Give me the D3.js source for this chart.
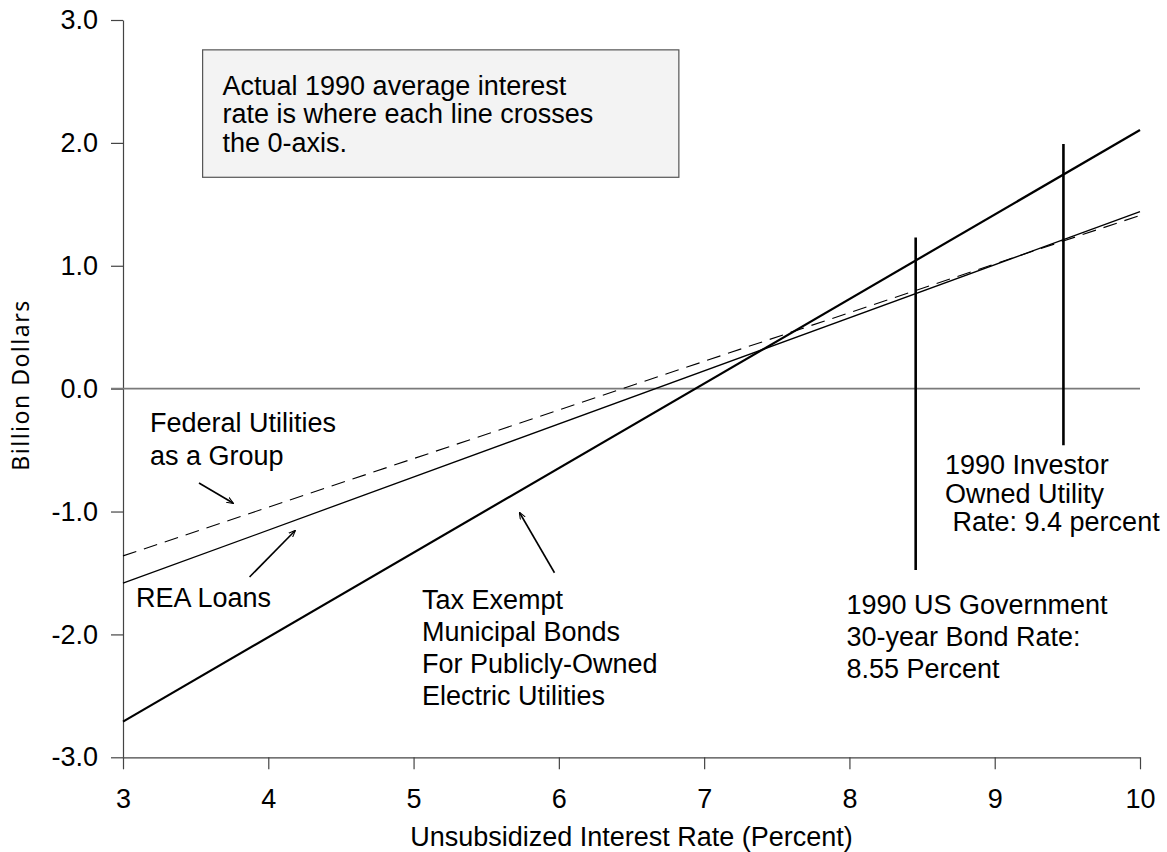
<!DOCTYPE html>
<html><head><meta charset="utf-8">
<script src="https://cdn.jsdelivr.net/npm/d3@7"></script>
<style>
body{margin:0;background:#fff}
svg{display:block}
text{font-family:"Liberation Sans",Arial,Helvetica,sans-serif;fill:#000}
</style>
</head><body>
<svg id="c" width="1167" height="852"></svg>
<script>
// ---- data ----
const xDomain = [3, 10];
const yDomain = [-3, 3];
const xTicks = [3, 4, 5, 6, 7, 8, 9, 10];
const yTicks = [-3, -2, -1, 0, 1, 2, 3];
const rateX = [3, 10];                 // unsubsidized interest rate (percent)
const taxExempt = [-2.71, 2.105];      // Tax Exempt Municipal Bonds (billion $)
const reaLoans = [-1.583, 1.44];       // REA Loans
const federalGroup = [-1.361, 1.41];   // Federal Utilities as a Group
const refRates = [8.456, 9.473];       // reference rate markers
const refTop = [1.23, 1.99];
const refBottom = [-1.475, -0.46];
const boxText = ["Actual 1990 average interest", "rate is where each line crosses", "the 0-axis."];
const xTitle = "Unsubsidized Interest Rate (Percent)";
const yTitle = "Billion Dollars";

// annotation anchors in data units
const labels = [
  {x: 3.186, y: -0.353, lh: 32.5, lines: ["Federal Utilities", "as a Group"]},
  {x: 3.089, y: -1.775, lh: 32, lines: ["REA Loans"]},
  {x: 5.058, y: -1.793, lh: 32, lines: ["Tax Exempt", "Municipal Bonds", "For Publicly-Owned", "Electric Utilities"]},
  {x: 8.658, y: -0.695, lh: 28.5, lines: ["1990 Investor", "Owned Utility", "\u00a0Rate: 9.4 percent"]},
  {x: 7.979, y: -1.83, lh: 32, lines: ["1990 US Government", "30-year Bond Rate:", "8.55 Percent"]}
];
const arrows = [
  {x1: 3.523, y1: -0.768, x2: 3.757, y2: -0.931},
  {x1: 3.871, y1: -1.533, x2: 4.184, y2: -1.156},
  {x1: 5.970, y1: -1.498, x2: 5.730, y2: -1.010}
];
const noteBox = {x0: 3.548, x1: 6.826, y0: 2.757, y1: 1.72, tx: 3.685, ty: 2.393, lh: 28.5};

// ---- drawing ----
const svg = d3.select("#c");
const x = d3.scaleLinear().domain(xDomain).range([123, 1140]);
const y = d3.scaleLinear().domain(yDomain).range([757.3, 20]);
const FS = 27;

svg.append("defs").append("marker")
  .attr("id", "ah").attr("viewBox", "0 0 10 10").attr("refX", 9).attr("refY", 5)
  .attr("markerWidth", 7).attr("markerHeight", 7).attr("markerUnits", "userSpaceOnUse")
  .attr("orient", "auto")
  .append("path").attr("d", "M0,1 L10,5 L0,9").attr("fill", "none").attr("stroke", "#000").attr("stroke-width", 1.5);

// axes
const gy = svg.append("g").attr("transform", `translate(${x(3)},0)`)
  .call(d3.axisLeft(y).tickValues(yTicks).tickFormat(d => d.toFixed(1)).tickSize(12).tickSizeOuter(0).tickPadding(13));
const gx = svg.append("g").attr("transform", `translate(0,${y(-3)})`)
  .call(d3.axisBottom(x).tickValues(xTicks).tickFormat(d => String(d)).tickSize(12).tickSizeOuter(0).tickPadding(20));
[gx, gy].forEach(g => {
  g.selectAll("path,line").attr("stroke", "#444").attr("stroke-width", 1.2);
  g.selectAll("text").attr("font-size", FS).attr("fill", "#000")
    .style("font-family", '"Liberation Sans",Arial,sans-serif');
});
gx.selectAll("text").attr("dy", "0.71em");

// zero line
svg.append("line").attr("x1", x(3) - 12).attr("x2", x(10)).attr("y1", y(0)).attr("y2", y(0))
  .attr("stroke", "#7a7a7a").attr("stroke-width", 1.6);

// note box
svg.append("rect").attr("x", x(noteBox.x0)).attr("y", y(noteBox.y0))
  .attr("width", x(noteBox.x1) - x(noteBox.x0)).attr("height", y(noteBox.y1) - y(noteBox.y0))
  .attr("fill", "#f3f3f3").attr("stroke", "#555").attr("stroke-width", 1.2);
const bt = svg.append("text").attr("font-size", FS);
boxText.forEach((t, i) => bt.append("tspan").attr("x", x(noteBox.tx)).attr("y", y(noteBox.ty) + i * noteBox.lh).text(t));

// series lines
const line = d3.line().x((d, i) => x(rateX[i])).y(d => y(d));
svg.append("path").datum(federalGroup).attr("d", line).attr("fill", "none")
  .attr("stroke", "#000").attr("stroke-width", 1.1).attr("stroke-dasharray", "14,8");
svg.append("path").datum(reaLoans).attr("d", line).attr("fill", "none")
  .attr("stroke", "#000").attr("stroke-width", 1.3);
svg.append("path").datum(taxExempt).attr("d", line).attr("fill", "none")
  .attr("stroke", "#000").attr("stroke-width", 2.2);

// reference verticals
refRates.forEach((r, i) => {
  svg.append("line").attr("x1", x(r)).attr("x2", x(r)).attr("y1", y(refTop[i])).attr("y2", y(refBottom[i]))
    .attr("stroke", "#000").attr("stroke-width", 2.6);
});

// arrows
arrows.forEach(a => {
  svg.append("line").attr("x1", x(a.x1)).attr("y1", y(a.y1)).attr("x2", x(a.x2)).attr("y2", y(a.y2))
    .attr("stroke", "#000").attr("stroke-width", 1.6).attr("marker-end", "url(#ah)");
});

// labels
labels.forEach(l => {
  const t = svg.append("text").attr("font-size", FS);
  l.lines.forEach((s, i) => t.append("tspan").attr("x", x(l.x)).attr("y", y(l.y) + i * l.lh).text(s));
});

// titles
svg.append("text").attr("x", (x(3) + x(10)) / 2 - 0).attr("y", 846).attr("text-anchor", "middle")
  .attr("font-size", FS).text(xTitle);
svg.append("text").attr("transform", `translate(29,385) rotate(-90)`).attr("text-anchor", "middle")
  .attr("font-size", 23).attr("letter-spacing", 1.5).attr("fill", "#222")
  .style("font-family", '"URW Gothic","Century Gothic","Noto Sans","DejaVu Sans",sans-serif')
  .text(yTitle);
</script>
</body></html>
